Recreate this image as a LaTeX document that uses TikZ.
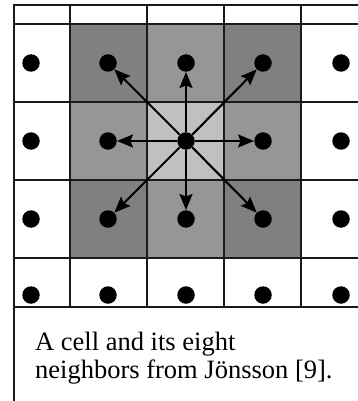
\documentclass[tikz,border=0pt]{standalone}
\usepackage{fontspec}
\setmainfont{Liberation Serif}
\usetikzlibrary{arrows.meta}
\definecolor{darkcell}{HTML}{808080}
\definecolor{midcell}{HTML}{969696}
\definecolor{lightcell}{HTML}{C0C0C0}
\definecolor{gridline}{HTML}{1A1A1A}
\tikzset{
  dot/.style={circle, fill=black, inner sep=0pt, minimum size=17.5pt},
  thinline/.style={draw=gridline, line width=1.1pt},
  thickline/.style={draw=gridline, line width=2pt},
  nbarrow/.style={line width=2.1pt, -{Stealth[length=16pt, width=13pt, inset=2.5pt]}},
  captxt/.style={anchor=base west, inner sep=0pt, font=\fontsize{26.5}{28}\selectfont}
}
\begin{document}
\begin{tikzpicture}[x=1pt, y=-1pt]
\useasboundingbox (0,0) rectangle (358,401);
% shaded cells
\fill[darkcell] (70,24) rectangle (147,102);
\fill[midcell] (147,24) rectangle (224,102);
\fill[darkcell] (224,24) rectangle (301,102);
\fill[midcell] (70,102) rectangle (147,180);
\fill[lightcell] (147,102) rectangle (224,180);
\fill[midcell] (224,102) rectangle (301,180);
\fill[darkcell] (70,180) rectangle (147,258);
\fill[midcell] (147,180) rectangle (224,258);
\fill[darkcell] (224,180) rectangle (301,258);
% grid lines
\foreach \y in {24,102,180,258} \draw[thinline] (14,\y) -- (358,\y);
\draw[thickline] (14,5) -- (358,5);
\draw[thickline] (14,307) -- (358,307);
\foreach \x in {70,147,224,301} \draw[thinline] (\x,5) -- (\x,307);
\draw[thickline] (14,4) -- (14,401);
% dots
\foreach \c/\x in {1/31,2/108,3/186,4/263,5/341}{
  \foreach \r/\y in {1/63,2/141,3/219,4/295}{
    \node[dot] (d\r\c) at (\x,\y) {};
  }
}
% arrows from the centre cell to its eight neighbours
\foreach \t in {d12,d13,d14,d22,d24,d32,d33,d34}
  \draw[nbarrow] (d23) -- (\t);
% caption
\node[captxt] (cap1) at (35,350) {A cell and its eight};
\node[captxt] (cap2) at (35,378) {neighbors from Jönsson [9].};
\end{tikzpicture}
\end{document}
